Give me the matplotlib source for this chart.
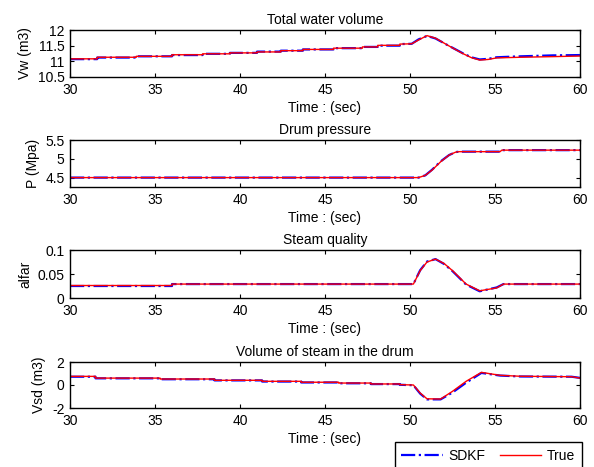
import matplotlib
matplotlib.use("Agg")
import matplotlib.pyplot as plt

plt.rcParams['font.family'] = ['Liberation Sans', 'DejaVu Sans']
plt.rcParams['font.size'] = 10

# Total water volume (m3)
t_vw = [30, 31.6, 31.6, 33.9, 33.9, 36.0, 36.0, 37.8, 37.8, 39.4, 39.4, 41.0, 41.0,
        42.4, 42.4, 43.7, 43.7, 45.5, 45.5, 47.2, 47.2, 48.1, 48.1, 49.4, 49.4, 50.1,
        50.5, 51.0, 51.5, 52.2, 53.1, 53.6, 54.1, 54.6, 55.1, 56.5, 58.4, 60]
vw_true = [11.08, 11.08, 11.13, 11.13, 11.16, 11.16, 11.21, 11.21, 11.24, 11.24, 11.27, 11.27, 11.30,
           11.30, 11.34, 11.34, 11.38, 11.38, 11.42, 11.42, 11.46, 11.46, 11.51, 11.51, 11.55, 11.56,
           11.68, 11.82, 11.74, 11.52, 11.25, 11.12, 11.04, 11.06, 11.11, 11.13, 11.15, 11.17]
vw_sdkf = [11.07, 11.07, 11.12, 11.12, 11.16, 11.16, 11.2, 11.2, 11.24, 11.24, 11.27, 11.27, 11.31,
           11.31, 11.34, 11.34, 11.38, 11.38, 11.42, 11.42, 11.46, 11.46, 11.5, 11.5, 11.55, 11.56,
           11.7, 11.81, 11.73, 11.52, 11.26, 11.13, 11.06, 11.08, 11.13, 11.16, 11.19, 11.2]

# Drum pressure (MPa)
t_p = [30, 50.5, 50.9, 51.3, 51.8, 52.3, 52.7, 52.9, 55.3, 55.4, 60]
p_true = [4.5, 4.5, 4.56, 4.7, 4.92, 5.1, 5.18, 5.19, 5.19, 5.23, 5.23]
p_sdkf = [4.5, 4.5, 4.56, 4.71, 4.93, 5.1, 5.18, 5.19, 5.19, 5.23, 5.23]

# Steam quality
t_a = [30, 36.0, 36.0, 50.2, 50.6, 51.0, 51.5, 52.0, 52.5, 53.3, 54.1, 55.1, 55.5, 60]
a_true = [0.026, 0.026, 0.029, 0.029, 0.057, 0.075, 0.081, 0.072, 0.057, 0.029, 0.015, 0.021, 0.029, 0.029]
a_sdkf = [0.025, 0.025, 0.029, 0.029, 0.058, 0.076, 0.081, 0.071, 0.056, 0.028, 0.014, 0.022, 0.029, 0.029]

# Volume of steam in the drum (m3)
t_vsd = [30, 31.5, 31.5, 35.3, 35.3, 38.5, 38.5, 41.3, 41.3, 43.6, 43.6, 45.8, 45.8,
         47.7, 47.7, 49.4, 49.4, 50.2, 50.6, 51.0, 51.8, 52.5, 53.3, 54.2, 55.3, 56.5, 59.5, 60]
vsd_true = [0.75, 0.75, 0.6, 0.6, 0.52, 0.52, 0.41, 0.41, 0.32, 0.32, 0.24, 0.24, 0.17,
            0.17, 0.09, 0.09, 0.03, 0.0, -0.7, -1.2, -1.22, -0.55, 0.32, 1.1, 0.84, 0.76, 0.72, 0.6]
vsd_sdkf = [0.72, 0.72, 0.58, 0.58, 0.5, 0.5, 0.4, 0.4, 0.3, 0.3, 0.22, 0.22, 0.15,
            0.15, 0.08, 0.08, 0.02, -0.02, -0.75, -1.25, -1.25, -0.65, 0.2, 1.05, 0.82, 0.74, 0.72, 0.62]

panels = [
    ("Total water volume", "Vw (m3)", t_vw, vw_sdkf, vw_true, (10.5, 12), [10.5, 11, 11.5, 12], ["10.5", "11", "11.5", "12"]),
    ("Drum pressure", "P (Mpa)", t_p, p_sdkf, p_true, (4.25, 5.5), [4.5, 5, 5.5], ["4.5", "5", "5.5"]),
    ("Steam quality", "alfar", t_a, a_sdkf, a_true, (0, 0.1), [0, 0.05, 0.1], ["0", "0.05", "0.1"]),
    ("Volume of steam in the drum", "Vsd (m3)", t_vsd, vsd_sdkf, vsd_true, (-2, 2), [-2, 0, 2], ["-2", "0", "2"]),
]

# axes boxes in pixels (top, bottom) of a 594x467 figure
W, H = 594, 467
boxes = [(30, 77), (140, 187), (250, 298), (362, 408)]

fig = plt.figure(figsize=(W / 100, H / 100), dpi=100)

for (title, ylab, t, sdkf, true, ylim, yt, ytl), (top, bot) in zip(panels, boxes):
    ax = fig.add_axes([70 / W, 1 - bot / H, 510 / W, (bot - top) / H])
    l1, = ax.plot(t, sdkf, color='blue', linestyle='-.', linewidth=1.6)
    l2, = ax.plot(t, true, color='red', linestyle='-', linewidth=1.0)
    ax.set_xlim(30, 60)
    ax.set_ylim(*ylim)
    ax.set_xticks([30, 35, 40, 45, 50, 55, 60])
    ax.set_yticks(yt)
    ax.set_yticklabels(ytl)
    ax.tick_params(direction='in', top=True, right=True, length=3, width=0.8)
    ax.tick_params(axis='x', pad=4)
    ax.tick_params(axis='y', pad=4)
    for s in ax.spines.values():
        s.set_linewidth(1.0)
    ax.set_title(title, fontsize=10, pad=4)
    ax.set_xlabel("Time : (sec)", labelpad=3)
    ax.set_ylabel(ylab)

fig.legend([l1, l2], ["SDKF", "True"], loc='upper right', ncol=2,
           bbox_to_anchor=(582 / W, 1 - 442 / H), borderaxespad=0,
           frameon=True, fancybox=False, edgecolor='black', framealpha=1,
           handlelength=3, handletextpad=0.4, columnspacing=1.0,
           borderpad=0.5, fontsize=10)

fig.savefig("out.png", dpi=100)
